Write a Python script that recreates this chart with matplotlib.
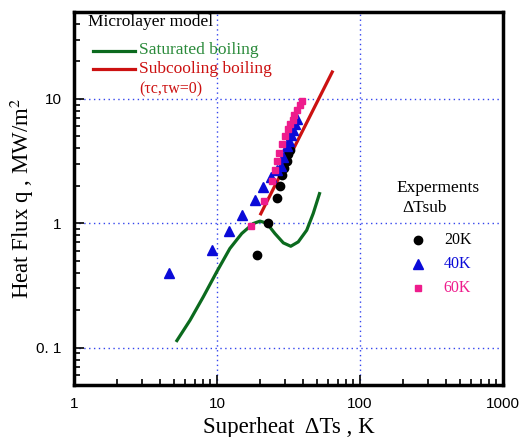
import matplotlib
matplotlib.use('Agg')
import matplotlib.pyplot as plt
from matplotlib.ticker import FixedLocator, LogLocator, NullFormatter
from matplotlib.lines import Line2D

# model curves (superheat K, heat flux MW/m2)
sat_dt = [5.17, 6.48, 8.02, 9.95, 12.3, 14.9, 17.9, 20.0, 22.3, 25.4, 29.1, 32.8, 37.0, 42.4, 47.1, 52.5]
sat_q = [0.111, 0.166, 0.256, 0.406, 0.626, 0.827, 0.994, 1.04, 1.0, 0.827, 0.695, 0.653, 0.708, 0.879, 1.20, 1.78]

sub_dt = [20.0, 64.7]
sub_q = [1.16, 16.9]

# experiments
dt_20 = [18.9, 22.9, 26.2, 27.6, 28.6, 29.5, 30.7, 31.5, 32.4]
q_20 = [0.56, 1.0, 1.60, 1.98, 2.46, 2.80, 3.17, 3.58, 3.91]

dt_40 = [4.62, 9.18, 12.2, 14.9, 18.4, 21.1, 23.7, 26.3, 27.9, 29.1, 30.7, 31.7, 32.8, 33.8, 35.1, 36.1]
q_40 = [0.40, 0.61, 0.87, 1.17, 1.55, 1.94, 2.36, 2.7, 2.87, 3.41, 4.15, 4.58, 5.09, 5.66, 6.32, 6.93]

dt_60 = [17.2, 21.3, 24.1, 25.4, 26.2, 27.3, 28.6, 29.9, 31.2, 32.4, 33.8, 34.7, 36.4, 38.0, 39.5]
q_60 = [0.95, 1.51, 2.19, 2.70, 3.17, 3.70, 4.37, 5.03, 5.76, 6.32, 6.81, 7.37, 8.09, 8.87, 9.6]

GREEN = '#0b6a1e'
RED = '#cc1111'
BLUE = '#0a0ad8'
PINK = '#ee1c8c'
SERIF = 'Liberation Serif'

plt.rcParams['mathtext.fontset'] = 'stix'

fig = plt.figure(figsize=(5.3, 4.37), dpi=100)
ax = fig.add_axes([74 / 530, 52 / 437, 429 / 530, 373 / 437])
ax.set_xscale('log')
ax.set_yscale('log')
ax.set_xlim(1, 1000)
ax.set_ylim(0.05, 50)

for v in [10, 100]:
    ax.axvline(v, color='#3344ee', lw=1, ls=(0, (1, 2.5)), zorder=0)
for v in [0.1, 1, 10]:
    ax.axhline(v, color='#3344ee', lw=1, ls=(0, (1, 2.5)), zorder=0)

ax.plot(sat_dt, sat_q, color=GREEN, lw=2.3, solid_capstyle='butt', solid_joinstyle='round')
ax.plot(sub_dt, sub_q, color=RED, lw=2.3, solid_capstyle='butt')

ax.plot(dt_20, q_20, 'o', color='black', ms=6, ls='none')
ax.plot(dt_40, q_40, '^', color=BLUE, ms=6.5, ls='none')
ax.plot(dt_60, q_60, 's', color=PINK, ms=4.5, ls='none')

# model legend
ax.text(0.033, 0.973, 'Microlayer model', transform=ax.transAxes, fontsize=12.5,
        family=SERIF, va='center', ha='left')
ax.add_line(Line2D([0.044, 0.142], [0.895, 0.895], transform=ax.transAxes, color=GREEN, lw=2.3))
ax.add_line(Line2D([0.044, 0.142], [0.847, 0.847], transform=ax.transAxes, color=RED, lw=2.3))
ax.text(0.152, 0.897, 'Saturated boiling', transform=ax.transAxes, fontsize=12.5,
        family=SERIF, color='#2a8a3a', va='center', ha='left')
ax.text(0.152, 0.847, 'Subcooling boiling', transform=ax.transAxes, fontsize=12.5,
        family=SERIF, color=RED, va='center', ha='left')
ax.text(0.152, 0.792, '(τc,τw=0)', transform=ax.transAxes, fontsize=11.5,
        family=SERIF, color=RED, va='center', ha='left')

# experiment legend
ax.text(0.848, 0.528, 'Experments', transform=ax.transAxes, fontsize=12.5,
        family=SERIF, va='center', ha='center')
ax.text(0.818, 0.475, 'ΔTsub', transform=ax.transAxes, fontsize=12.5,
        family=SERIF, va='center', ha='center')
ax.add_line(Line2D([0.802], [0.389], transform=ax.transAxes, marker='o', color='black', ms=6, ls='none'))
ax.add_line(Line2D([0.802], [0.324], transform=ax.transAxes, marker='^', color=BLUE, ms=6.5, ls='none'))
ax.add_line(Line2D([0.802], [0.260], transform=ax.transAxes, marker='s', color=PINK, ms=4.5, ls='none'))
ax.text(0.862, 0.389, '20K', transform=ax.transAxes, fontsize=11.5, family=SERIF,
        va='center', ha='left', color='black')
ax.text(0.862, 0.324, '40K', transform=ax.transAxes, fontsize=11.5, family=SERIF,
        va='center', ha='left', color=BLUE)
ax.text(0.862, 0.260, '60K', transform=ax.transAxes, fontsize=11.5, family=SERIF,
        va='center', ha='left', color=PINK)

# axes styling
for s in ax.spines.values():
    s.set_linewidth(2.5)
ax.xaxis.set_major_locator(FixedLocator([1, 10, 100, 1000]))
ax.set_xticklabels(['1', '10', '100', '1000'])
ax.yaxis.set_major_locator(FixedLocator([0.1, 1, 10]))
ax.set_yticklabels(['0. 1', '1', '10'])
ax.xaxis.set_minor_locator(LogLocator(base=10, subs=range(2, 10)))
ax.yaxis.set_minor_locator(LogLocator(base=10, subs=range(2, 10)))
ax.xaxis.set_minor_formatter(NullFormatter())
ax.yaxis.set_minor_formatter(NullFormatter())
ax.tick_params(which='both', direction='in', top=False, right=False, width=1.2)
ax.tick_params(which='major', length=7, labelsize=11, pad=9)
ax.tick_params(which='minor', length=4)
for lab in ax.get_xticklabels() + ax.get_yticklabels():
    lab.set_family('Liberation Sans')

ax.set_xlabel('Superheat  ΔTs , K', fontsize=16.5, family=SERIF, labelpad=4)
ax.set_ylabel('Heat Flux q , MW/m$^2$', fontsize=16.5, family=SERIF)
ax.yaxis.set_label_coords(-0.088, 0.5)

fig.savefig('out.png', dpi=100)
